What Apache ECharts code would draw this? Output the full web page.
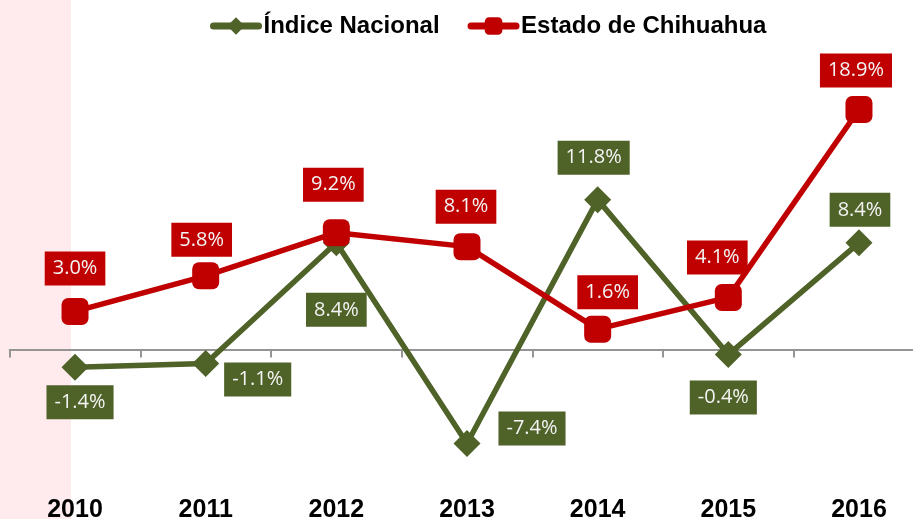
<!DOCTYPE html>
<html>
<head>
<meta charset="utf-8">
<script src="https://cdn.jsdelivr.net/npm/echarts@6/dist/echarts.min.js"></script>
<style>
  html, body { margin: 0; padding: 0; background: #ffffff; }
  #chart { width: 913px; height: 519px; }
</style>
</head>
<body>
<div id="chart"></div>
<script>
// Years on the category axis
const years = ['2010', '2011', '2012', '2013', '2014', '2015', '2016'];

// Annual change (%) for each series
const indiceNacional = [-1.4, -1.1, 8.4, -7.4, 11.8, -0.4, 8.4];
const estadoChihuahua = [3.0, 5.8, 9.2, 8.1, 1.6, 4.1, 18.9];

// Label placement around each marker (pixel shift of the label centre)
const nacionalLabelShift = [[5, 35], [52, 16], [0, 67], [65, -15], [-4, -42], [-5, 43], [1, -33]];
const chihuahuaLabelShift = [[0, -43], [-4, -36], [-3, -48], [-1, -40], [10, -37], [-11, -40], [-3, -39]];

const GREEN = '#4f6228';
const RED = '#c00000';

function pointsWithLabels(values, shifts, color) {
  return values.map((v, i) => ({
    value: v,
    label: {
      show: true,
      position: 'inside',
      offset: shifts[i],
      formatter: (p) => p.value.toFixed(1) + '%',
      backgroundColor: color,
      color: '#f4f4f4',
      fontFamily: 'Open Sans',
      fontSize: 20,
      lineHeight: 24,
      padding: [5, 8]
    }
  }));
}

const chart = echarts.init(document.getElementById('chart'), null, { renderer: 'canvas' });

chart.setOption({
  animation: false,
  backgroundColor: '#ffffff',
  graphic: [{
    type: 'rect',
    z: -1,
    shape: { x: 0, y: 0, width: 71, height: 519 },
    style: { fill: '#ffebee' }
  }],
  legend: {
    left: 210,
    top: 14,
    padding: 0,
    itemWidth: 45,
    itemHeight: 22,
    itemGap: 28,
    textStyle: { fontFamily: 'Liberation Sans', fontWeight: 'bold', fontSize: 24, color: '#000000' },
    lineStyle: { width: 7, cap: 'round' },
    data: ['Índice Nacional', 'Estado de Chihuahua']
  },
  // the plot runs a little past the right edge, so the last tick sits off-canvas
  grid: {
    left: 9.7,
    width: 914.6,
    top: 95.5,
    bottom: 42.5,
    containLabel: false,
    outerBoundsMode: 'none'
  },
  xAxis: [
    {
      type: 'category',
      data: years,
      boundaryGap: true,
      axisLine: { show: false, onZero: false },
      axisTick: { show: false },
      axisLabel: {
        margin: 21,
        fontFamily: 'Liberation Sans',
        fontWeight: 'bold',
        fontSize: 25,
        color: '#000000'
      }
    },
    {
      type: 'category',
      data: years,
      position: 'bottom',
      boundaryGap: true,
      axisLine: { show: true, onZero: true, lineStyle: { color: '#959595', width: 2 } },
      axisTick: { show: true, length: 8, lineStyle: { color: '#959595', width: 2 } },
      axisLabel: { show: false }
    }
  ],
  yAxis: {
    type: 'value',
    min: -10,
    max: 20,
    show: false,
    splitLine: { show: false }
  },
  series: [
    {
      name: 'Índice Nacional',
      type: 'line',
      xAxisIndex: 0,
      data: pointsWithLabels(indiceNacional, nacionalLabelShift, GREEN),
      symbol: 'diamond',
      symbolSize: 27,
      showAllSymbol: true,
      lineStyle: { color: GREEN, width: 5.5, join: 'round' },
      itemStyle: { color: GREEN }
    },
    {
      name: 'Estado de Chihuahua',
      type: 'line',
      xAxisIndex: 0,
      data: pointsWithLabels(estadoChihuahua, chihuahuaLabelShift, RED),
      symbol: 'roundRect',
      symbolSize: 27,
      showAllSymbol: true,
      lineStyle: { color: RED, width: 5.5, join: 'round' },
      itemStyle: { color: RED }
    }
  ]
});
</script>
</body>
</html>
